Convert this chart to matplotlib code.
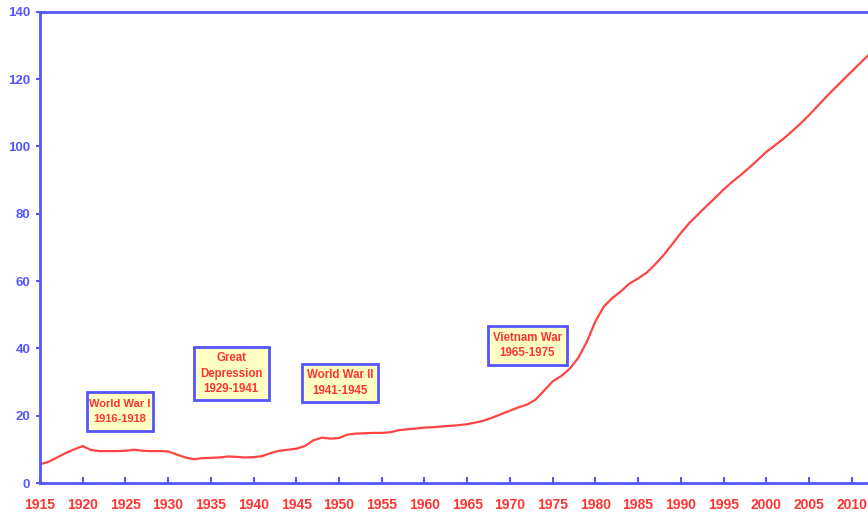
import matplotlib.pyplot as plt
from matplotlib.patches import Rectangle

# index values
years = [1915, 1916, 1917, 1918, 1919, 1920, 1921, 1922, 1923, 1924, 1925, 1926, 1927,
         1928, 1929, 1930, 1931, 1932, 1933, 1934, 1935, 1936, 1937, 1938, 1939, 1940,
         1941, 1942, 1943, 1944, 1945, 1946, 1947, 1948, 1949, 1950, 1951, 1952, 1953,
         1954, 1955, 1956, 1957, 1958, 1959, 1960, 1961, 1962, 1963, 1964, 1965, 1966,
         1967, 1968, 1969, 1970, 1971, 1972, 1973, 1974, 1975, 1976, 1977, 1978, 1979,
         1980, 1981, 1982, 1983, 1984, 1985, 1986, 1987, 1988, 1989, 1990, 1991, 1992,
         1993, 1994, 1995, 1996, 1997, 1998, 1999, 2000, 2001, 2002, 2003, 2004, 2005,
         2006, 2007, 2008, 2009, 2010, 2011, 2012]
values = [5.6, 6.3, 7.6, 8.9, 10.0, 11.0, 9.8, 9.5, 9.5, 9.5, 9.6, 9.9, 9.6,
          9.5, 9.5, 9.4, 8.5, 7.6, 7.1, 7.4, 7.5, 7.6, 7.9, 7.8, 7.6, 7.7,
          8.0, 8.9, 9.6, 9.9, 10.2, 11.0, 12.7, 13.5, 13.2, 13.4, 14.4, 14.7, 14.8,
          14.9, 14.9, 15.1, 15.7, 16.0, 16.2, 16.5, 16.6, 16.8, 17.0, 17.2, 17.5, 18.0,
          18.6, 19.5, 20.5, 21.5, 22.5, 23.3, 24.8, 27.5, 30.2, 31.8, 34.0, 37.2, 42.0,
          48.0, 52.5, 55.0, 57.0, 59.3, 60.8, 62.5, 65.0, 67.8, 71.0, 74.3, 77.3, 79.8,
          82.3, 84.7, 87.2, 89.5, 91.5, 93.7, 96.0, 98.4, 100.3, 102.3, 104.5, 106.8, 109.3,
          112.0, 114.7, 117.3, 119.8, 122.3, 124.8, 127.3]

event_labels = ['World War I\n1916-1918', 'Great\nDepression\n1929-1941',
                'World War II\n1941-1945', 'Vietnam War\n1965-1975']

# label box extents in data units (x0, x1, y0, y1)
event_boxes = [(1920.5, 1928.2, 15.5, 27.0),
               (1933.0, 1941.8, 24.7, 40.4),
               (1945.7, 1954.55, 24.1, 35.4),
               (1967.4, 1976.65, 35.1, 46.7)]

blue = '#5555ff'
red = '#ff3333'

fig = plt.figure(figsize=(8.68, 5.15), dpi=100)
ax = fig.add_axes([0.046, 0.062, 0.954, 0.915])

ax.plot(years, values, color='#ff4444', linewidth=1.6)

for label, (x0, x1, y0, y1) in zip(event_labels, event_boxes):
    ax.add_patch(Rectangle((x0, y0), x1 - x0, y1 - y0, facecolor='#ffffc4',
                           edgecolor=blue, linewidth=2, zorder=3))
    # WWI label is squeezed into a narrow box
    wwi = label.startswith('World War I\n')
    ax.text((x0 + x1) / 2, (y0 + y1) / 2, label, ha='center', va='center',
            fontsize=8.0 if wwi else 8.3, fontweight='bold', color=red,
            family='Liberation Sans', linespacing=1.65 if wwi else 1.35, zorder=4)

ax.set_xlim(1915, 2011.9)
ax.set_ylim(0, 140)
ax.set_xticks(range(1915, 2011, 5))
ax.set_yticks(range(0, 141, 20))

for side in ['left', 'bottom', 'top']:
    ax.spines[side].set_color(blue)
    ax.spines[side].set_linewidth(2)
ax.spines['right'].set_visible(False)

ax.tick_params(axis='x', colors=blue, direction='in', length=4, width=1.5, pad=11,
               labelcolor=red)
ax.tick_params(axis='y', colors=blue, direction='out', length=3, width=1.5, pad=4,
               labelcolor=blue)
for t in ax.get_xticklabels():
    t.set_fontsize(10)
    t.set_fontweight('bold')
    t.set_family('Liberation Sans')
for t in ax.get_yticklabels():
    t.set_fontsize(9.5)
    t.set_fontweight('bold')
    t.set_family('Liberation Sans')

fig.savefig('out.png', dpi=100)
